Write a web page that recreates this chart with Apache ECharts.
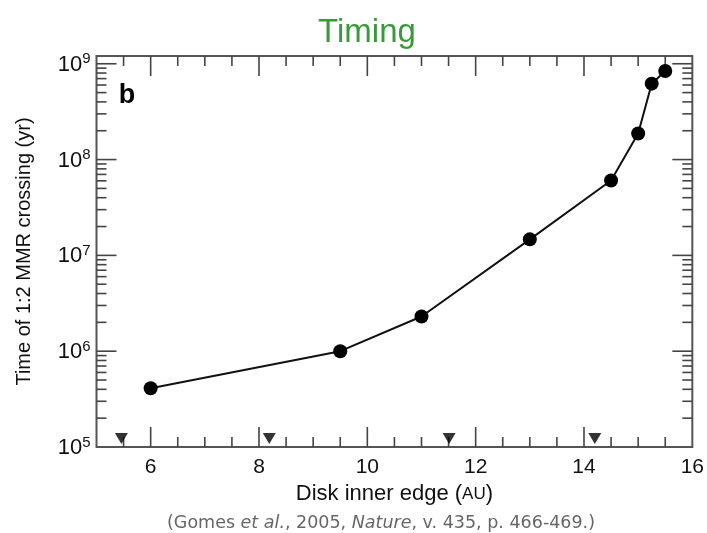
<!DOCTYPE html>
<html><head><meta charset="utf-8">
<script src="https://cdn.jsdelivr.net/npm/echarts@6/dist/echarts.min.js"></script>
<style>html,body{margin:0;padding:0;background:#fff}#c{width:707px;height:533px}</style>
</head><body><div id="c"></div>
<script>
const titleText = 'Timing';
const panelLetter = 'b';
const yName = 'Time of 1:2 MMR crossing (yr)';
const innerEdgeAU = [6, 9.5, 11, 13, 14.5, 15, 15.25, 15.5];
const crossingTimeYr = [4.1e5, 1.0e6, 2.3e6, 1.47e7, 6.05e7, 1.87e8, 6.2e8, 8.4e8];
const markerAU = [5.46, 8.19, 11.51, 14.2];
const markerYr = [1.23e5, 1.23e5, 1.23e5, 1.23e5];
const xMajorTicks = [6, 8, 10, 12, 14];
const xMinorTicks = [5.5, 6.5, 7, 7.5, 8.5, 9, 9.5, 10.5, 11, 11.5, 12.5, 13, 13.5, 14.5, 15, 15.5];
const xLabelValues = [6, 8, 10, 12, 14, 16];
const yMajorTicks = [1e6, 1e7, 1e8, 1e9];
const yMinorMantissas = [2, 3, 4, 5, 6, 7, 8, 9];
const yDecades = [1e5, 1e6, 1e7, 1e8];
const xMin = 5, xMax = 16, yMin = 1e5, yMax = 1.205e9;

const FONT = 'Liberation Sans, Arial, Helvetica, sans-serif';
const tickData = [];
xMajorTicks.forEach(v => tickData.push([v, yMin, 0, 1]));
xMinorTicks.forEach(v => tickData.push([v, yMin, 0, 0]));
yMajorTicks.forEach(v => tickData.push([xMin, v, 1, 1]));
yDecades.forEach(d => yMinorMantissas.forEach(m => tickData.push([xMin, m * d, 1, 0])));

const chart = echarts.init(document.getElementById('c'), null, {renderer: 'canvas'});
const tickStyle = {stroke: '#444', lineWidth: 1.6};
chart.setOption({
  animation: false,
  backgroundColor: '#fff',
  grid: {left: 96.5, right: 14.3, top: 56, bottom: 86, show: true, borderColor: '#555', borderWidth: 2, backgroundColor: 'transparent'},
  xAxis: {
    type: 'value', min: xMin, max: xMax, interval: 1,
    axisLine: {show: false}, axisTick: {show: false}, splitLine: {show: false},
    axisLabel: {
      fontFamily: FONT, fontSize: 21, color: '#111', margin: 10,
      formatter: v => (xLabelValues.indexOf(v) >= 0 ? String(v) : '')
    },
    name: '{a|Disk inner edge (}{s|AU}{a|)}',
    nameLocation: 'middle', nameGap: 35,
    nameTextStyle: {rich: {a: {fontFamily: FONT, fontSize: 22, color: '#111'}, s: {fontFamily: FONT, fontSize: 17, color: '#111'}}}
  },
  yAxis: {
    type: 'log', logBase: 10, min: yMin, max: yMax,
    axisLine: {show: false}, axisTick: {show: false}, splitLine: {show: false}, minorTick: {show: false},
    axisLabel: {
      margin: 6,
      formatter: v => {
        const e = Math.log10(v);
        if (Math.abs(e - Math.round(e)) > 1e-6) return '';
        return '{b|10}{s|' + Math.round(e) + '}';
      },
      rich: {
        b: {fontFamily: FONT, fontSize: 22, color: '#111', verticalAlign: 'bottom'},
        s: {fontFamily: FONT, fontSize: 15, color: '#111', padding: [0, 0, 9, 0], verticalAlign: 'bottom'}
      }
    },
    name: yName, nameLocation: 'middle', nameGap: 62, nameRotate: 90,
    nameTextStyle: {fontFamily: FONT, fontSize: 20, color: '#111'}
  },
  graphic: [
    {type: 'text', x: 367, y: 33, style: {text: titleText, fontFamily: FONT, fontSize: 33, fill: '#3a993a', align: 'center', verticalAlign: 'middle'}},
    {type: 'text', x: 127, y: 96, style: {text: panelLetter, fontFamily: FONT, fontSize: 27, fontWeight: 'bold', fill: '#000', align: 'center', verticalAlign: 'middle'}},
    {type: 'text', x: 381, y: 523, style: {
      text: '{n|(Gomes }{i|et al.}{n|, 2005, }{i|Nature}{n|, v. 435, p. 466-469.)}',
      align: 'center', verticalAlign: 'middle',
      rich: {
        n: {fontFamily: 'DejaVu Sans, sans-serif', fontSize: 17.5, fill: '#666', color: '#666'},
        i: {fontFamily: 'DejaVu Sans, sans-serif', fontSize: 17.5, fontStyle: 'italic', fill: '#666', color: '#666'}
      }
    }}
  ],
  series: [
    {
      type: 'custom', silent: true, z: 1, clip: false,
      encode: {x: 0, y: 1},
      data: tickData,
      renderItem: (params, api) => {
        const cs = params.coordSys;
        const kind = api.value(2), major = api.value(3);
        const len = major ? 20 : 10;
        if (kind === 0) {
          const x = api.coord([api.value(0), yMin])[0];
          const yb = cs.y + cs.height, yt = cs.y;
          return {type: 'group', children: [
            {type: 'line', shape: {x1: x, y1: yb, x2: x, y2: yb - len}, style: tickStyle},
            {type: 'line', shape: {x1: x, y1: yt, x2: x, y2: yt + len}, style: tickStyle}
          ]};
        }
        const y = api.coord([xMin, api.value(1)])[1];
        const xl = cs.x, xr = cs.x + cs.width;
        return {type: 'group', children: [
          {type: 'line', shape: {x1: xl, y1: y, x2: xl + len, y2: y}, style: tickStyle},
          {type: 'line', shape: {x1: xr, y1: y, x2: xr - len, y2: y}, style: tickStyle}
        ]};
      }
    },
    {
      type: 'line', z: 3,
      data: innerEdgeAU.map((x, i) => [x, crossingTimeYr[i]]),
      symbol: 'circle', symbolSize: 14, showSymbol: true,
      lineStyle: {color: '#111', width: 2},
      itemStyle: {color: '#000'}
    },
    {
      type: 'scatter', z: 3,
      data: markerAU.map((x, i) => [x, markerYr[i]]),
      symbol: 'triangle', symbolRotate: 180, symbolSize: [13, 11],
      itemStyle: {color: '#000'}
    }
  ]
});
</script>
</body></html>
